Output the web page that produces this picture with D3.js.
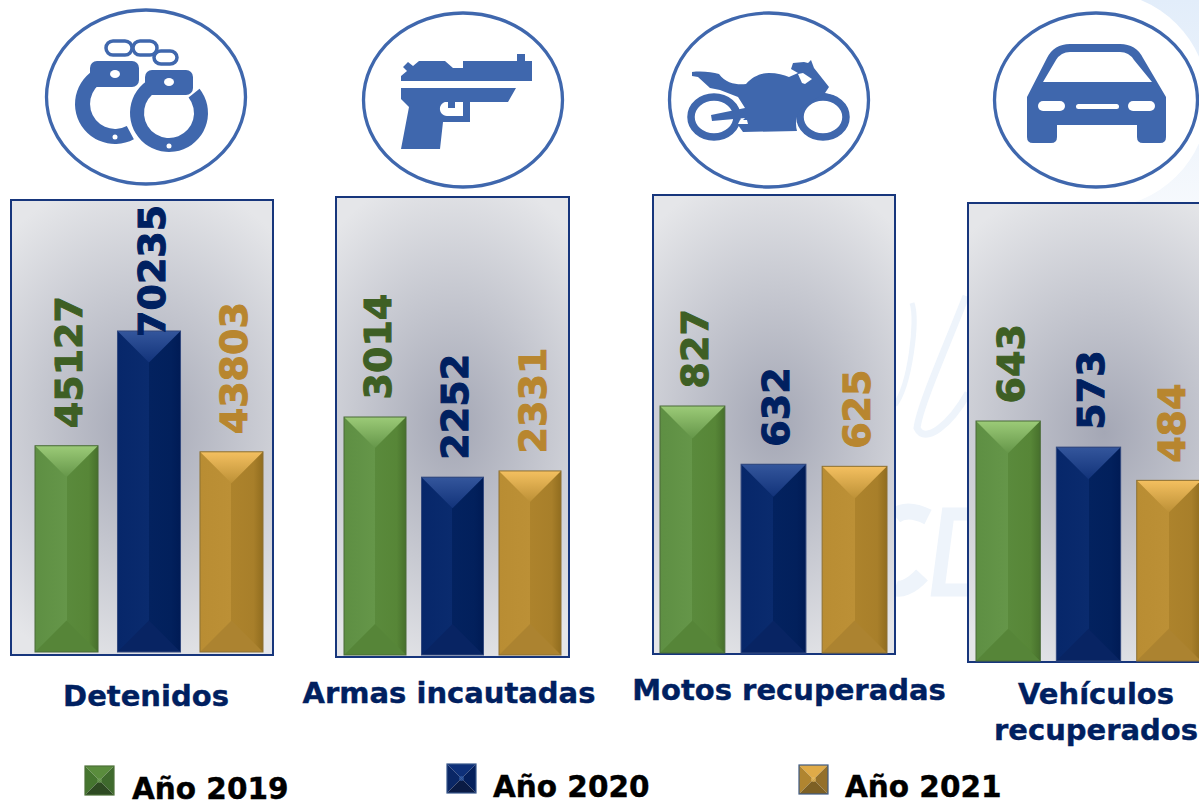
<!DOCTYPE html>
<meta charset="utf-8">
<style>

body {
  margin: 0;
  background: #fff;
  font-family: "DejaVu Sans", sans-serif;
  font-weight: bold;
}

svg {
  display: block;
}

.icon {
  fill: #3f67ad;
}

.ring {
  fill: #fff;
  stroke: #3f67ad;
  stroke-width: 3.3;
}

.frame {
  stroke: #17367c;
  stroke-width: 2;
}

.value {
  font-size: 38px;
  stroke-width: 1;
}

.category {
  font-size: 29px;
  fill: #002060;
  text-anchor: middle;
  stroke: #002060;
  stroke-width: 0.4;
}

.legend-label {
  font-size: 29.5px;
  fill: #000;
  stroke: #000;
  stroke-width: 0.4;
}

</style>
<body>
<script src="https://d3js.org/d3.v7.min.js"></script>
<script>

// data
var years = ["Año 2019", "Año 2020", "Año 2021"];
var detenidos = [45127, 70235, 43803];
var armas = [3014, 2252, 2331];
var motos = [827, 632, 625];
var vehiculos = [643, 573, 484];

// layout of each of the four small charts, in page pixels
var panels = [
  {values: detenidos, box: [11, 200, 273, 655], bars: [35, 263], base: 652, maxTop: 331, pad: 0.236,
    title: ["Detenidos"], titleX: 146, titleY: [706]},
  {values: armas, box: [336, 197, 569, 657], bars: [344, 561], base: 655, maxTop: 417, pad: 0.2,
    title: ["Armas incautadas"], titleX: 449, titleY: [703]},
  {values: motos, box: [653, 195, 895, 654], bars: [660, 887], base: 653, maxTop: 406, pad: 0.2,
    title: ["Motos recuperadas"], titleX: 789, titleY: [700]},
  {values: vehiculos, box: [968, 203, 1240, 662], bars: [976, 1201], base: 661, maxTop: 421, pad: 0.2,
    title: ["Vehículos", "recuperados"], titleX: 1096, titleY: [704, 740]}
];

var colors = [
  {text: "#3e5f24", face: ["#5e8f43", "#659649", "#5a8a3c", "#578637", "#47702c"], top: ["#9ccb78", "#659649"], bottom: "#568538", edge: "#4a6b38",
    mark: ["#5a8c3d", "#45752f", "#3f6a2d", "#2e4a22"], markEdge: "#4c7038", spot: "#6d9c55"},
  {text: "#002060", face: ["#07276a", "#0a2b6e", "#03225f", "#02205c", "#001b55"], top: ["#34569c", "#12337a"], bottom: "#082463", edge: "#33497e",
    mark: ["#0e3079", "#0a2766", "#05205c", "#0a1b44"], markEdge: "#36558a", spot: "#3560a8"},
  {text: "#b8862f", face: ["#b98d33", "#bc9036", "#ad832c", "#a87f2a", "#916d1f"], top: ["#f4c060", "#bc9036"], bottom: "#ac8330", edge: "#8d7134",
    mark: ["#e0ab48", "#b08530", "#94702a", "#7d6024"], markEdge: "#3f5a82", spot: "#e8bb5c"}
];

var legendX = [85, 447, 799];
var legendY = [766, 764, 765];
var legendTextX = [132, 493, 845];
var legendTextY = [799, 797, 797];

var svg = d3.select("body").append("svg")
    .attr("width", 1199)
    .attr("height", 800);

var defs = svg.append("defs");

var panelGradient = defs.append("radialGradient")
    .attr("id", "panelFill")
    .attr("cx", "50%")
    .attr("cy", "50%")
    .attr("r", "56%")
    .attr("gradientTransform", "translate(0.5 0.5) scale(1.4 1) translate(-0.5 -0.5)");
panelGradient.append("stop").attr("offset", "0%").attr("stop-color", "#a4a7b5");
panelGradient.append("stop").attr("offset", "100%").attr("stop-color", "#e5e6e9");

function addGradient(id, pair, vertical) {
  var g = defs.append("linearGradient")
      .attr("id", id)
      .attr("x1", 0).attr("y1", 0)
      .attr("x2", vertical ? 0 : 1).attr("y2", vertical ? 1 : 0);
  g.append("stop").attr("offset", "0%").attr("stop-color", pair[0]);
  g.append("stop").attr("offset", "100%").attr("stop-color", pair[1]);
}

// one gradient across the bar, with a soft step at the middle
var faceStops = [0, 0.5, 0.5, 0.85, 1];

colors.forEach(function(c, i) {
  var face = defs.append("linearGradient").attr("id", "face" + i);
  faceStops.forEach(function(s, j) {
    face.append("stop").attr("offset", s).attr("stop-color", c.face[j]);
  });
  addGradient("top" + i, c.top, true);
});
addGradient("paleFill", ["#e2edfa", "#f6f9fd"], true);

// pale watermark behind everything
svg.append("rect")
    .attr("x", 1100).attr("y", 0)
    .attr("width", 99).attr("height", 204)
    .attr("fill", "url(#paleFill)");
svg.append("circle")
    .attr("cx", 1100).attr("cy", 100).attr("r", 108)
    .attr("fill", "#fff");

var mark = svg.append("g").attr("fill", "none").attr("stroke", "#eef4fb");
mark.append("path")
    .attr("d", "M966,296 C945,350 920,405 917,428 C925,445 950,425 968,393")
    .attr("stroke-width", 7);
mark.append("path")
    .attr("d", "M912,303 C918,320 910,385 895,405")
    .attr("stroke-width", 5);
mark.append("path")
    .attr("d", "M928,517 C910,508 900,512 895,516 M922,575 C910,588 900,590 895,588")
    .attr("stroke-width", 16);
mark.append("path")
    .attr("d", "M968,514 L948,514 L938,590 L968,590")
    .attr("stroke-width", 13);

// icons
var ringCenters = [[146, 97, 99.5, 87], [463, 100, 99.5, 87], [769, 100, 99.5, 87], [1096, 100, 101.5, 87]];

svg.selectAll(".ring")
    .data(ringCenters)
  .enter().append("ellipse")
    .attr("class", "ring")
    .attr("cx", function(d) { return d[0]; })
    .attr("cy", function(d) { return d[1]; })
    .attr("rx", function(d) { return d[2]; })
    .attr("ry", function(d) { return d[3]; });

function handcuffs(g) {
  var links = [[106, 41, 26, 14], [133, 41, 24, 14], [154, 51, 23, 13]];
  g.selectAll(".link")
      .data(links)
    .enter().append("rect")
      .attr("x", function(d) { return d[0]; })
      .attr("y", function(d) { return d[1]; })
      .attr("width", function(d) { return d[2]; })
      .attr("height", function(d) { return d[3]; })
      .attr("rx", 7)
      .attr("fill", "none")
      .attr("stroke", "#3f67ad")
      .attr("stroke-width", 3.5);

  var arc = d3.arc();
  g.append("path")
      .attr("class", "icon")
      .attr("transform", "translate(115,104)")
      .attr("d", arc({innerRadius: 25, outerRadius: 40, startAngle: 2.65, endAngle: 2 * Math.PI}));
  g.append("rect").attr("class", "icon")
      .attr("x", 90).attr("y", 61).attr("width", 49).attr("height", 26).attr("rx", 7);
  g.append("ellipse").attr("cx", 115).attr("cy", 74).attr("rx", 5).attr("ry", 4).attr("fill", "#fff");
  g.append("circle").attr("cx", 115).attr("cy", 137).attr("r", 2.5).attr("fill", "#fff");

  // white halo keeps the two cuffs apart
  g.append("circle").attr("cx", 169).attr("cy", 113).attr("r", 42).attr("fill", "#fff");
  g.append("path")
      .attr("class", "icon")
      .attr("transform", "translate(169,113)")
      .attr("d", arc({innerRadius: 25, outerRadius: 39, startAngle: 0.9, endAngle: 2 * Math.PI + 0.2}));
  g.append("rect").attr("class", "icon")
      .attr("x", 145).attr("y", 70).attr("width", 48).attr("height", 25).attr("rx", 7);
  g.append("ellipse").attr("cx", 169).attr("cy", 82).attr("rx", 5).attr("ry", 4).attr("fill", "#fff");
  g.append("circle").attr("cx", 169).attr("cy", 146).attr("r", 2.5).attr("fill", "#fff");
}

function gun(g) {
  g.append("path").attr("class", "icon")
      .attr("d", "M401,81 L401,76 L407,71 L403,67 L408,62 L413,66 L419,61 L445,61 L453,68 L463,68 L463,61 L517,61 L517,54 L525,54 L525,61 L532,61 L532,81 Z");
  g.append("path").attr("class", "icon")
      .attr("d", "M401,88 L516,88 L508,102 L470,102 L470,122 L443,122 L440,149 L401,149 L409,107 L401,99 Z");
  g.append("path")
      .attr("fill", "#fff")
      .attr("d", "M445,102 L448,102 L448,108 L455,108 L455,102 L463,102 L463,116 L447,116 C438,115 438,104 445,102 Z");
}

function motorcycle(g) {
  g.selectAll(".wheel")
      .data([[714, 117], [823, 117]])
    .enter().append("ellipse")
      .attr("cx", function(d) { return d[0]; })
      .attr("cy", function(d) { return d[1]; })
      .attr("rx", 23)
      .attr("ry", 20)
      .attr("fill", "none")
      .attr("stroke", "#3f67ad")
      .attr("stroke-width", 7.5);
  g.append("path").attr("class", "icon")
      .attr("d", "M692,72 C702,71 712,72 719,74 C726,84 738,85 746,84 C752,77 760,73 769,73 C777,73 784,75 789,77 L798,73 L791,69 L793,63 L804,62 L808,63 L811,60 L814,68 L829,87 L825,93 L838,97 L824,94 L808,103 C798,108 794,120 797,131 L743,132 L738,125 L745,118 L745,108 L738,97 L720,90 L710,88 L698,77 L692,76 Z");
  g.append("path").attr("class", "icon")
      .attr("d", "M711,115 L745,108 L745,118 L712,121 Z");
  g.append("path")
      .attr("fill", "#fff")
      .attr("d", "M798,74 L803,73 L812,79 L805,84 L802,83 Z");
  g.append("path")
      .attr("fill", "#fff")
      .attr("d", "M740,120 L747,120 L748,124 L738,124 Z");
}

function car(g) {
  g.append("path").attr("class", "icon")
      .attr("d", "M1070,44 L1120,44 Q1136,44 1143,58 L1166,97 L1166,137 Q1166,143 1160,143 L1143,143 Q1137,143 1137,137 L1137,125 L1057,125 L1057,137 Q1057,143 1051,143 L1033,143 Q1027,143 1027,137 L1027,97 L1047,58 Q1054,44 1070,44 Z");
  g.append("path")
      .attr("fill", "#fff")
      .attr("d", "M1043,82 L1056,60 Q1061,52 1070,52 L1120,52 Q1129,52 1134,60 L1152,82 Z");
  var lights = [[1038, 101, 27, 10], [1076, 104, 43, 5], [1128, 101, 27, 10]];
  g.selectAll(".light")
      .data(lights)
    .enter().append("rect")
      .attr("x", function(d) { return d[0]; })
      .attr("y", function(d) { return d[1]; })
      .attr("width", function(d) { return d[2]; })
      .attr("height", function(d) { return d[3]; })
      .attr("rx", function(d) { return d[3] / 2; })
      .attr("fill", "#fff");
}

handcuffs(svg.append("g"));
gun(svg.append("g"));
motorcycle(svg.append("g"));
car(svg.append("g"));

// the four bar charts
panels.forEach(function(p) {
  var g = svg.append("g");

  g.append("rect")
      .attr("class", "frame")
      .attr("x", p.box[0])
      .attr("y", p.box[1])
      .attr("width", p.box[2] - p.box[0])
      .attr("height", p.box[3] - p.box[1])
      .attr("fill", "url(#panelFill)");

  var x = d3.scaleBand()
      .domain(d3.range(p.values.length))
      .range(p.bars)
      .paddingInner(p.pad);

  var y = d3.scaleLinear()
      .domain([0, d3.max(p.values)])
      .range([p.base, p.maxTop]);

  var bar = g.selectAll(".bar")
      .data(p.values)
    .enter().append("g")
      .attr("class", "bar");

  var w = x.bandwidth();

  bar.append("rect")
      .attr("x", function(d, i) { return x(i); })
      .attr("y", function(d) { return y(d); })
      .attr("width", w)
      .attr("height", function(d) { return p.base - y(d); })
      .attr("fill", function(d, i) { return "url(#face" + i + ")"; });

  bar.append("path")
      .attr("fill", function(d, i) { return "url(#top" + i + ")"; })
      .attr("d", function(d, i) {
        var t = y(d);
        return "M" + x(i) + "," + t + "L" + (x(i) + w) + "," + t + "L" + (x(i) + w / 2) + "," + (t + w / 2) + "Z";
      });

  bar.append("path")
      .attr("fill", function(d, i) { return colors[i].bottom; })
      .attr("d", function(d, i) {
        return "M" + x(i) + "," + p.base + "L" + (x(i) + w) + "," + p.base + "L" + (x(i) + w / 2) + "," + (p.base - w / 2) + "Z";
      });

  bar.append("rect")
      .attr("x", function(d, i) { return x(i); })
      .attr("y", function(d) { return y(d); })
      .attr("width", w)
      .attr("height", function(d) { return p.base - y(d); })
      .attr("fill", "none")
      .attr("stroke", function(d, i) { return colors[i].edge; });

  // the tallest label is held inside the frame, the way the original fits it
  g.selectAll(".value")
      .data(p.values)
    .enter().append("text")
      .attr("class", "value")
      .attr("fill", function(d, i) { return colors[i].text; })
      .attr("stroke", function(d, i) { return colors[i].text; })
      .attr("dy", "0.36em")
      .attr("transform", function(d, i) {
        var ty = Math.max(y(d) - 17.5, p.box[1] + 137);
        return "translate(" + (x(i) + w / 2 + 2) + "," + ty + ") rotate(-90)";
      })
      .text(function(d) { return d; });

  g.selectAll(".category")
      .data(p.title)
    .enter().append("text")
      .attr("class", "category")
      .attr("x", p.titleX)
      .attr("y", function(d, i) { return p.titleY[i]; })
      .text(function(d) { return d; });
});

// legend
var legendSize = 29;
var legendRow = svg.selectAll(".legend")
    .data(years)
  .enter().append("g")
    .attr("class", "legend");

legendRow.each(function(d, i) {
  var row = d3.select(this),
      x0 = legendX[i],
      y0 = legendY[i],
      s = legendSize,
      cx = x0 + s / 2,
      cy = y0 + s / 2,
      m = colors[i].mark;
  var faces = [
    [[x0, y0], [x0 + s, y0], [cx, cy], m[0]],
    [[x0, y0], [x0, y0 + s], [cx, cy], m[1]],
    [[x0 + s, y0], [x0 + s, y0 + s], [cx, cy], m[2]],
    [[x0, y0 + s], [x0 + s, y0 + s], [cx, cy], m[3]]
  ];
  row.selectAll("path")
      .data(faces)
    .enter().append("path")
      .attr("fill", function(f) { return f[3]; })
      .attr("d", function(f) { return "M" + f[0] + "L" + f[1] + "L" + f[2] + "Z"; });
  row.append("circle")
      .attr("cx", cx).attr("cy", cy).attr("r", 2.5)
      .attr("fill", colors[i].spot)
      .attr("opacity", 0.7);
  row.append("rect")
      .attr("x", x0).attr("y", y0)
      .attr("width", s).attr("height", s)
      .attr("fill", "none")
      .attr("stroke", colors[i].markEdge)
      .attr("stroke-width", 1.2);
  row.append("text")
      .attr("class", "legend-label")
      .attr("x", legendTextX[i])
      .attr("y", legendTextY[i])
      .text(d);
});

</script>
